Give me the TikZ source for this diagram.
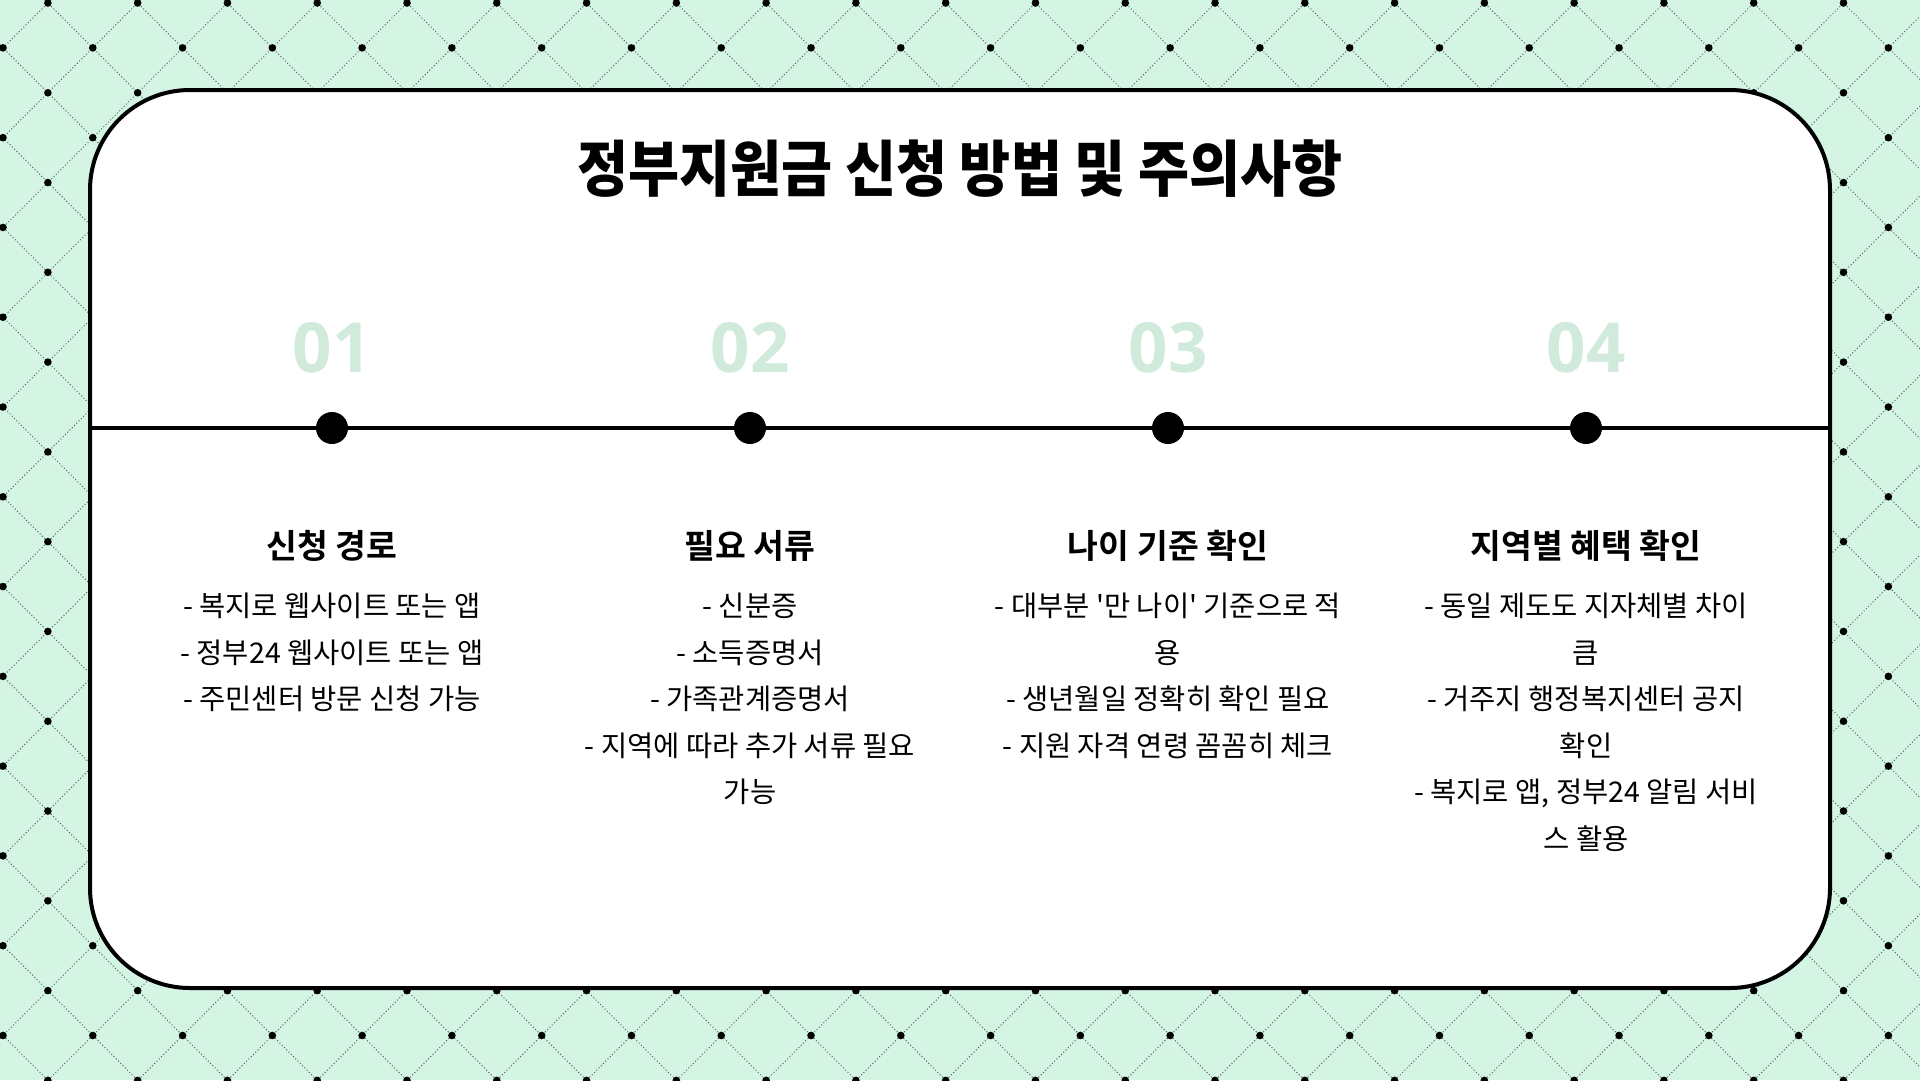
\documentclass[tikz,border=0pt]{standalone}
\usepackage{fontspec}
\newfontfamily\titlefont[FakeStretch=0.91]{Noto Sans CJK KR Black}
\newfontfamily\headfont{Noto Sans CJK KR Bold}
\newfontfamily\bodyfont[Ligatures=TeXOff]{Noto Sans CJK KR}
\newfontfamily\numfont{Open Sans}
\definecolor{bg}{HTML}{D4F5E3}
\definecolor{numc}{HTML}{D0EADC}
\definecolor{patc}{HTML}{52665C}
\tikzset{
  patline/.style={draw=patc, line width=1pt, dash pattern=on 1pt off 2.2pt},
  patdot/.style={fill=black},
  frame/.style={draw=black, line width=4pt, fill=white, rounded corners=100pt},
  tdot/.style={circle, fill=black, minimum size=32pt, inner sep=0pt},
  numlabel/.style={text=numc, font=\numfont\bfseries\fontsize{69}{80}\selectfont, inner sep=0pt},
  headlabel/.style={font=\headfont\fontsize{33.5}{40}\selectfont, inner sep=0pt},
  bodylabel/.style={font=\bodyfont\fontsize{28.5}{46.5}\selectfont, align=center, anchor=north, inner sep=0pt},
}
\begin{document}
\begin{tikzpicture}[x=1pt,y=-1pt]
\useasboundingbox (0,0) rectangle (1920,1080);
\fill[bg] (0,0) rectangle (1920,1080);
\def\s{44.89}
\begin{scope}
\clip (0,0) rectangle (1920,1080);
\foreach \k in {-25,-23,...,69} {
  \draw[patline] ({3+\s*\k-60},-57) -- ++(1250,1250);
  \draw[patline] ({3+\s*\k+60},-57) -- ++(-1250,1250);
}
\foreach \m in {0,...,22} {
  \foreach \n in {0,...,12} {
    \fill[patdot] ({3+\s*(2*\m+1)},{3+\s*2*\n}) circle (3.8);
    \fill[patdot] ({3+\s*2*\m},{3+\s*(2*\n+1)}) circle (3.8);
  }
}
\end{scope}
\draw[frame] (90,90) rectangle (1830,988);
\node[font=\titlefont\fontsize{61}{70}\selectfont, inner sep=0pt] (title) at (960,169) {정부지원금 신청 방법 및 주의사항};
\coordinate (L) at (90,428);
\coordinate (R) at (1830,428);
\draw[line width=3.3pt] (L) -- (R);
\foreach \x/\i/\num in {332/1/01, 750/2/02, 1168/3/03, 1586/4/04} {
  \node[tdot] (d\i) at (\x,428) {};
  \node[numlabel] (n\i) at (\x,348) {\num};
}
\node[headlabel] (h1) at (332,546) {신청 경로};
\node[headlabel] (h2) at (750,546) {필요 서류};
\node[headlabel] (h3) at (1168,546) {나이 기준 확인};
\node[headlabel] (h4) at (1586,546) {지역별 혜택 확인};
\node[bodylabel] (b1) at (332,593) {- 복지로 웹사이트 또는 앱\\- 정부24 웹사이트 또는 앱\\- 주민센터 방문 신청 가능};
\node[bodylabel] (b2) at (750,593) {- 신분증\\- 소득증명서\\- 가족관계증명서\\- 지역에 따라 추가 서류 필요\\가능};
\node[bodylabel] (b3) at (1168,593) {- 대부분 '만 나이' 기준으로 적\\용\\- 생년월일 정확히 확인 필요\\- 지원 자격 연령 꼼꼼히 체크};
\node[bodylabel] (b4) at (1586,593) {- 동일 제도도 지자체별 차이\\큼\\- 거주지 행정복지센터 공지\\확인\\- 복지로 앱, 정부24 알림 서비\\스 활용};
\end{tikzpicture}
\end{document}
